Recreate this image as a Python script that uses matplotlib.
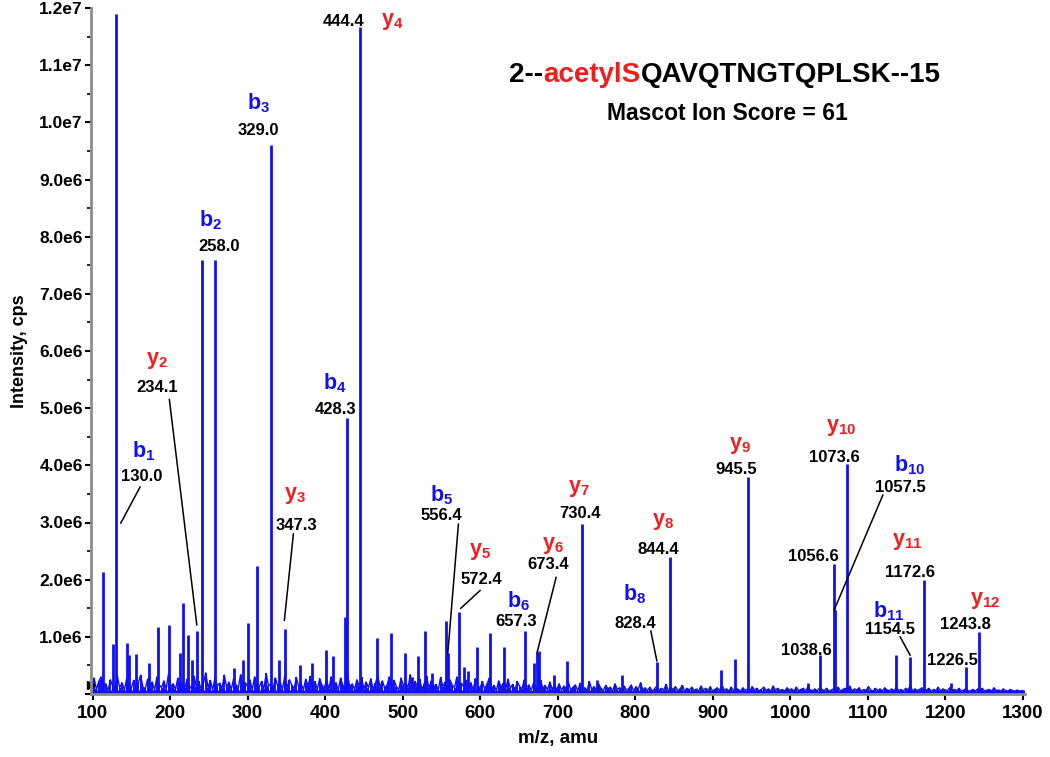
import numpy as np
import matplotlib
matplotlib.use("Agg")
import matplotlib.pyplot as plt
from matplotlib.offsetbox import TextArea, HPacker, AnnotationBbox
from matplotlib.ticker import MultipleLocator, FuncFormatter

plt.rcParams['font.family'] = ['Liberation Sans', 'DejaVu Sans']
plt.rcParams['mathtext.fontset'] = 'custom'
plt.rcParams['mathtext.bf'] = 'Liberation Sans:bold'
plt.rcParams['mathtext.rm'] = 'Liberation Sans'

# peaks: m/z and intensity (x1e6 cps)
peak_mz = [113.2, 126.9, 130.0, 144.0, 147.5, 155.7, 173.0, 184.0, 198.7, 213.0,
           217.2, 223.7, 228.8, 234.3, 240.9, 258.2, 283.0, 294.0, 301.0, 311.8,
           330.0, 341.0, 348.3, 367.0, 383.0, 401.0, 410.7, 426.0, 428.6, 444.8,
           466.7, 485.0, 502.6, 512.0, 520.3, 529.4, 538.5, 555.6, 558.0, 573.2,
           579.0, 585.0, 596.0, 613.3, 631.4, 657.8, 670.0, 673.5, 676.0, 695.5,
           712.7, 731.0, 750.5, 782.8, 828.0, 844.8, 910.6, 929.0, 946.0, 1022.8,
           1039.0, 1056.8, 1057.8, 1073.9, 1136.8, 1154.8, 1172.9, 1207.7, 1226.7, 1243.9]
peak_int = [2.13, 0.87, 11.9, 0.90, 0.68, 0.70, 0.54, 1.18, 1.20, 0.71,
            1.60, 1.04, 0.60, 1.10, 7.60, 7.60, 0.45, 0.60, 1.24, 2.24,
            9.60, 0.60, 1.13, 0.50, 0.55, 0.77, 0.66, 1.35, 4.82, 11.67,
            0.98, 1.07, 0.71, 0.30, 0.66, 1.10, 0.37, 1.27, 0.72, 1.44,
            0.47, 0.40, 0.82, 1.06, 0.82, 1.10, 0.55, 0.72, 0.75, 0.33,
            0.57, 2.97, 0.25, 0.33, 0.56, 2.40, 0.42, 0.61, 3.80, 0.20,
            0.68, 2.27, 1.47, 4.03, 0.68, 0.65, 2.00, 0.20, 0.48, 1.09]

# baseline noise every 3 amu from m/z 99 (x1e4 cps)
noise_h = [12, 28, 8, 22, 30, 10, 18, 6, 25, 14, 9, 32, 11, 20, 7, 27, 15, 10, 24, 8,
           19, 33, 12, 9, 26, 14, 21, 7, 30, 16, 11, 23, 9, 35, 13, 18, 8, 28, 12, 20,
           10, 26, 15, 8, 31, 12, 22, 9, 18, 37, 11, 24, 7, 29, 14, 19, 10, 33, 12, 21,
           8, 27, 16, 11, 34, 9, 20, 13, 25, 7, 30, 15, 12, 22, 9, 36, 14, 18, 10, 28,
           13, 21, 8, 32, 11, 25, 16, 9, 29, 12, 19, 7, 26, 14, 31, 10, 22, 8, 27, 15,
           11, 24, 9, 30, 13, 20, 7, 28, 15, 10, 33, 12, 18, 8, 25, 14, 29, 9, 21, 11,
           27, 8, 19, 32, 12, 23, 10, 16, 30, 9, 24, 13, 7, 28, 15, 20, 11, 34, 9, 22,
           14, 26, 8, 18, 31, 10, 23, 12, 17, 7, 29, 13, 21, 9, 25, 16, 11, 30, 8, 19,
           12, 24, 9, 20, 7, 27, 14, 11, 22, 8, 18, 28, 10, 15, 6, 23, 12, 19, 9, 26,
           10, 17, 7, 22, 13, 9, 25, 11, 16, 6, 20, 12, 8, 24, 10, 15, 7, 21, 9, 14,
           8, 18, 6, 14, 10, 20, 7, 12, 16, 5, 19, 9, 11, 6, 22, 8, 13, 7, 17, 10,
           6, 15, 9, 12, 5, 18, 8, 11, 7, 14, 6, 10, 16, 5, 13, 8, 20, 7, 11, 6,
           12, 5, 9, 14, 6, 10, 7, 17, 5, 11, 8, 13, 6, 9, 15, 5, 10, 7, 12, 6,
           9, 5, 14, 7, 10, 6, 13, 5, 8, 11, 6, 16, 7, 9, 5, 12, 6, 10, 8, 5,
           11, 6, 9, 5, 13, 7, 10, 5, 8, 12, 6, 9, 5, 14, 7, 10, 6, 8, 5, 11,
           7, 9, 5, 12, 6, 8, 10, 5, 13, 7, 6, 9, 5, 11, 8, 6, 10, 5, 7, 9,
           6, 12, 5, 8, 10, 6, 14, 5, 9, 7, 11, 5, 8, 6, 13, 7, 5, 10, 6, 9,
           5, 11, 7, 6, 9, 5, 12, 6, 8, 5, 10, 7, 15, 5, 9, 6, 8, 11, 5, 7,
           10, 5, 8, 6, 12, 5, 9, 7, 6, 11, 5, 8, 6, 10, 5, 7, 9, 5, 6, 8,
           5, 9, 6, 10, 5, 7, 8, 5, 11, 6, 7, 5, 9, 6, 5, 8, 6, 5, 7, 5,
           6, 5]

# fragment ion annotations
ion_names = ['b1', 'y2', 'b2', 'b3', 'y3', 'b4', 'y4', 'b5', 'y5', 'b6', 'y6', 'y7',
             'b8', 'y8', 'y9', 'y10', 'b10', 'y11', 'b11', 'y12']
ion_label_pos = [(165.5, 4.24), (182.8, 5.84), (251.6, 8.29), (313.9, 10.33), (361.3, 3.48),
                 (412.9, 5.44), (486.1, 11.77), (550.6, 3.48), (600.0, 2.50), (649.4, 1.63),
                 (693.8, 2.59), (728.1, 3.60), (800.0, 1.75), (836.5, 3.01), (935.5, 4.34),
                 (1065.4, 4.66), (1153.9, 4.00), (1150.6, 2.66), (1126.8, 1.44), (1251.6, 1.64)]

value_texts = ['130.0', '234.1', '258.0', '329.0', '347.3', '428.3', '444.4', '556.4',
               '572.4', '657.3', '673.4', '730.4', '828.4', '844.4', '945.5', '1073.6',
               '1057.5', '1172.6', '1154.5', '1243.8', '1056.6', '1038.6', '1226.5']
value_pos = [(163.5, 3.80), (182.8, 5.37), (263.6, 7.82), (313.9, 9.85), (363.5, 2.94),
             (412.9, 4.97), (423.6, 11.77), (550.6, 3.12), (602.2, 2.00), (646.5, 1.26),
             (688.1, 2.27), (729.0, 3.16), (800.0, 1.24), (830.1, 2.52), (930.3, 3.93),
             (1056.8, 4.14), (1141.9, 3.61), (1154.8, 2.13), (1129.0, 1.12), (1225.8, 1.22),
             (1030.1, 2.41), (1021.5, 0.76), (1209.9, 0.59)]

# leader lines: (start m/z, start I), (end m/z, end I)
leaders = [((161.3, 3.62), (136.4, 2.99)), ((199.1, 5.15), (234.5, 1.21)),
           ((359.1, 2.80), (347.5, 1.29)), ((572.0, 2.97), (558.3, 0.71)),
           ((600.0, 1.81), (575.1, 1.50)), ((698.1, 2.04), (673.2, 0.71)),
           ((820.3, 1.10), (828.0, 0.58)), ((1119.6, 3.48), (1056.8, 1.47)),
           ((1141.9, 1.00), (1154.8, 0.68))]

blue = '#1010f5'
red = '#f01e1e'

fig = plt.figure(figsize=(10.5, 7.57), dpi=100)
ax = fig.add_axes([91 / 1050, 1 - 694 / 757, 934 / 1050, 686 / 757])

noise_mz = 99 + 3 * np.arange(len(noise_h))
noise_y = np.array(noise_h) * 1e4
ax.vlines(noise_mz, 0, noise_y, color=blue, lw=1.4)
ax.plot(noise_mz, noise_y, color=blue, lw=1.0)
ax.fill_between(noise_mz, 0, np.minimum(noise_y, 7e4), color=blue, lw=0)
ax.vlines(peak_mz, 0, np.array(peak_int) * 1e6, color=blue, lw=2.0)

ax.set_xlim(98, 1303)
ax.set_ylim(0, 1.2e7)

for sp in ['top', 'right']:
    ax.spines[sp].set_visible(False)
for sp in ['left', 'bottom']:
    ax.spines[sp].set_color('#8c8c8c')
    ax.spines[sp].set_linewidth(2)

ax.xaxis.set_major_locator(MultipleLocator(100))
ax.yaxis.set_major_locator(MultipleLocator(1e6))
ax.yaxis.set_minor_locator(MultipleLocator(5e5))
ax.yaxis.set_major_formatter(FuncFormatter(
    lambda v, p: '' if v == 0 else ('%.1fe7' % (v / 1e7) if v >= 1e7 else '%.1fe6' % (v / 1e6))))
ax.tick_params(axis='y', which='major', length=4, width=1.5, labelsize=12.5, pad=2)
ax.tick_params(axis='y', which='minor', length=3, width=1.2)
ax.tick_params(axis='x', length=4, width=1.5, labelsize=13.5, pad=4)
for lab in ax.get_yticklabels():
    lab.set_fontweight('bold')
for lab in ax.get_xticklabels():
    lab.set_fontweight('bold')

ax.set_xlabel('m/z, amu', fontsize=13.5, fontweight='bold', labelpad=6)
ax.set_ylabel('Intensity, cps', fontsize=13, fontweight='bold', labelpad=8)

ax.plot([0], [1.5e5], marker='>', color='black', markersize=6,
        transform=ax.get_yaxis_transform(), clip_on=False)

for name, (x, y) in zip(ion_names, ion_label_pos):
    col = blue if name[0] == 'b' else red
    ax.text(x, y * 1e6, r'$\mathbf{%s}_{\mathbf{%s}}$' % (name[0], name[1:]), color=col,
            fontsize=15.5, ha='center', va='center')

for txt, (x, y) in zip(value_texts, value_pos):
    ax.text(x, y * 1e6, txt, fontsize=12, fontweight='bold', ha='center', va='center')

for (x0, y0), (x1, y1) in leaders:
    ax.plot([x0, x1], [y0 * 1e6, y1 * 1e6], color='black', lw=1.1)

# title with coloured modification
tprops = dict(fontsize=20, fontweight='bold')
title = HPacker(children=[TextArea('2--', textprops=dict(color='black', **tprops)),
                          TextArea('acetylS', textprops=dict(color=red, **tprops)),
                          TextArea('QAVQTNGTQPLSK--15', textprops=dict(color='black', **tprops))],
                align='baseline', pad=0, sep=0)
ab = AnnotationBbox(title, (725 / 1050, 1 - 75 / 757), xycoords='figure fraction',
                    frameon=False, box_alignment=(0.5, 0.5))
fig.add_artist(ab)
fig.text(727 / 1050, 1 - 113 / 757, 'Mascot Ion Score = 61', fontsize=16.5,
         fontweight='bold', ha='center', va='center')

fig.savefig('out.png', dpi=100)
